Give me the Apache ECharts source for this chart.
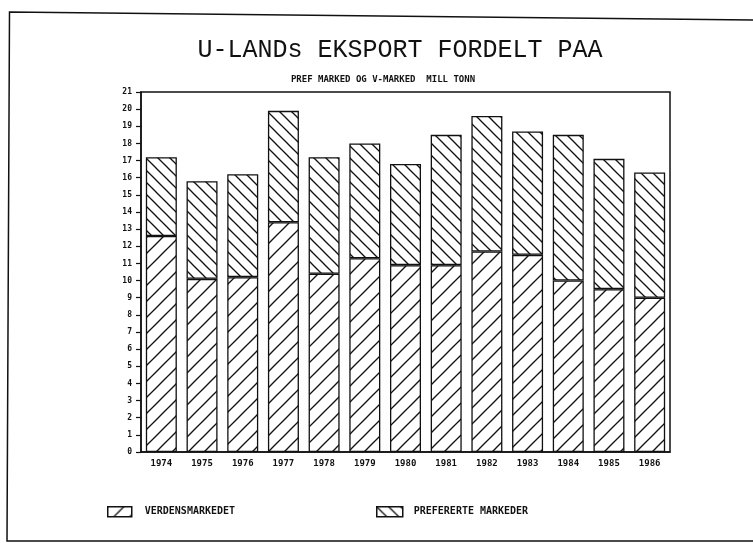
<!DOCTYPE html>
<html>
<head>
<meta charset="utf-8">
<script src="https://cdn.jsdelivr.net/npm/echarts@6/dist/echarts.min.js"></script>
<style>
  html, body { margin: 0; padding: 0; background: #fff; }
  #chart { width: 753px; height: 543px; }
</style>
</head>
<body>
<div id="chart"></div>
<script>
const years = ['1974', '1975', '1976', '1977', '1978', '1979', '1980', '1981', '1982', '1983', '1984', '1985', '1986']
// mill tonn
const verdensmarkedet = [12.6, 10.1, 10.2, 13.4, 10.4, 11.3, 10.9, 10.9, 11.7, 11.5, 10.0, 9.5, 9.0]
const preferertMarked = [4.6, 5.7, 6.0, 6.5, 6.8, 6.7, 5.9, 7.6, 7.9, 7.2, 8.5, 7.6, 7.3]

// hatch tiles: '/' for world market, '\' for preferred markets
const makeHatch = (size, forward) => {
  const c = document.createElement('canvas')
  c.width = size
  c.height = size
  const ctx = c.getContext('2d')
  ctx.fillStyle = '#fff'
  ctx.fillRect(0, 0, size, size)
  ctx.strokeStyle = '#111'
  ctx.lineWidth = 1.3
  const seg = (x1, y1, x2, y2) => { ctx.beginPath(); ctx.moveTo(x1, y1); ctx.lineTo(x2, y2); ctx.stroke() }
  if (forward) {
    seg(0, size, size, 0)
    seg(-2, 2, 2, -2)
    seg(size - 2, size + 2, size + 2, size - 2)
  } else {
    seg(0, 0, size, size)
    seg(-2, size - 2, 2, size + 2)
    seg(size - 2, -2, size + 2, 2)
  }
  return { image: c, repeat: 'repeat' }
}
const hatchFwd = makeHatch(16, true)
const hatchBack = makeHatch(12, false)

const chart = echarts.init(document.getElementById('chart'))
const monoBold = { fontFamily: 'DejaVu Sans Mono', fontWeight: 'bold', color: '#111' }

chart.setOption({
  animation: false,
  backgroundColor: '#fff',
  title: [
    {
      text: 'U-LANDs EKSPORT FORDELT PAA',
      left: 395,
      top: 33,
      textAlign: 'center',
      textStyle: { fontFamily: 'Liberation Mono', fontWeight: 'normal', fontSize: 25, color: '#111' }
    },
    {
      text: 'PREF MARKED OG V-MARKED  MILL TONN',
      left: 378,
      top: 70,
      textAlign: 'center',
      textStyle: Object.assign({ fontSize: 9 }, monoBold)
    }
  ],
  legend: [
    {
      data: ['VERDENSMARKEDET'],
      left: 102,
      top: 501,
      icon: 'rect',
      itemWidth: 24,
      itemHeight: 10,
      textStyle: Object.assign({ fontSize: 10, padding: [0, 0, 0, 8] }, monoBold),
      itemStyle: { borderColor: '#111', borderWidth: 1.5 }
    },
    {
      data: ['PREFERERTE MARKEDER'],
      left: 371,
      top: 501,
      icon: 'rect',
      itemWidth: 26,
      itemHeight: 10,
      textStyle: Object.assign({ fontSize: 10, padding: [0, 0, 0, 6] }, monoBold),
      itemStyle: { borderColor: '#111', borderWidth: 1.5 }
    }
  ],
  grid: {
    left: 141,
    right: 83,
    top: 92,
    bottom: 91,
    show: true,
    borderColor: '#111',
    borderWidth: 1.5,
    backgroundColor: 'transparent'
  },
  xAxis: {
    type: 'category',
    data: years,
    axisLine: { lineStyle: { color: '#111', width: 1.5 } },
    axisTick: { alignWithLabel: true, length: 5, lineStyle: { color: '#111', width: 1.5 } },
    axisLabel: Object.assign({ fontSize: 9, margin: 7 }, monoBold)
  },
  yAxis: {
    type: 'value',
    min: 0,
    max: 21,
    interval: 1,
    splitLine: { show: false },
    axisLine: { show: true, lineStyle: { color: '#111', width: 1.5 } },
    axisTick: { show: true, length: 5, lineStyle: { color: '#111', width: 1.2 } },
    axisLabel: Object.assign({ fontSize: 8, margin: 9 }, monoBold)
  },
  series: [
    {
      name: 'VERDENSMARKEDET',
      type: 'bar',
      stack: 'eksport',
      barWidth: 31,
      data: verdensmarkedet,
      itemStyle: { color: hatchFwd, borderColor: '#111', borderWidth: 1.3 }
    },
    {
      name: 'PREFERERTE MARKEDER',
      type: 'bar',
      stack: 'eksport',
      barWidth: 31,
      data: preferertMarked,
      itemStyle: { color: hatchBack, borderColor: '#111', borderWidth: 1.3 }
    }
  ],
  graphic: [
    {
      type: 'polyline',
      silent: true,
      shape: { points: [[760, 541], [7, 541], [9.5, 12], [760, 20]] },
      style: { fill: null, stroke: '#111', lineWidth: 1.5 }
    }
  ]
})
</script>
</body>
</html>
